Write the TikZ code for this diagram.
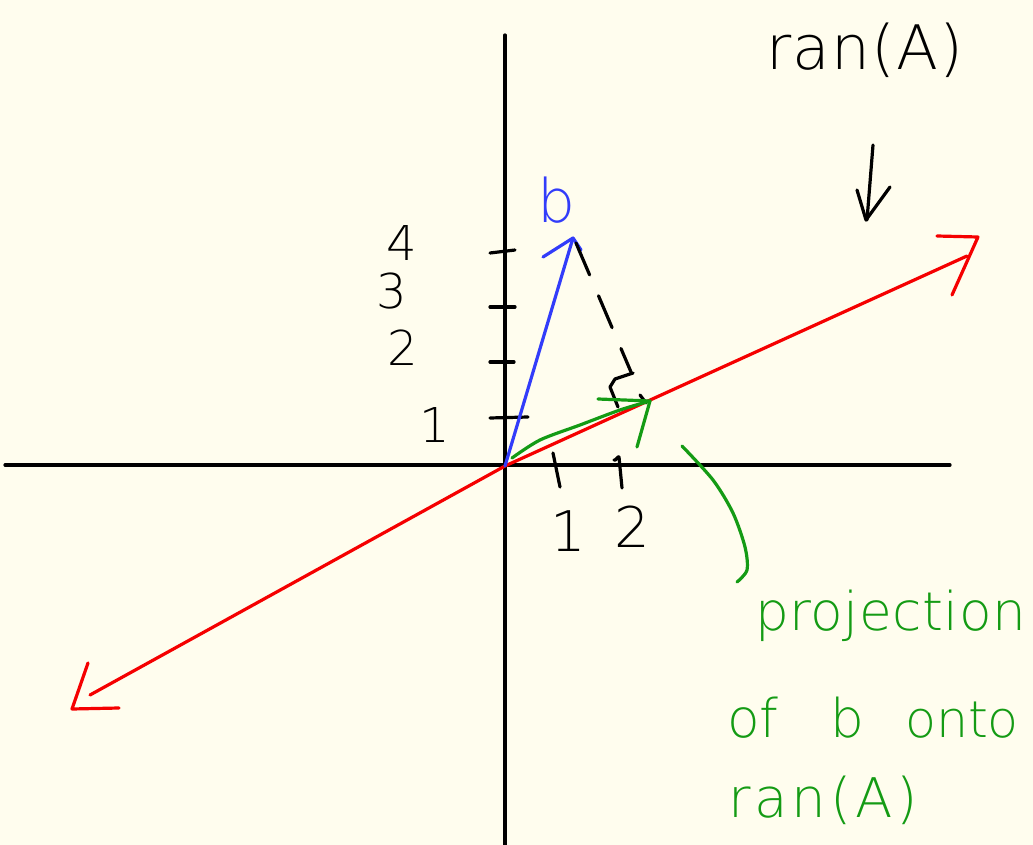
\documentclass[tikz,border=0pt]{standalone}
\usepackage{fontspec}
\setmainfont{DejaVu Sans ExtraLight}
\definecolor{bgc}{RGB}{255,253,238}
\definecolor{pred}{RGB}{245,0,0}
\definecolor{pblue}{RGB}{50,60,250}
\definecolor{pgreen}{RGB}{20,155,20}
\tikzset{
  pen/.style={line width=2.4pt,line cap=round,line join=round},
  lbl/.style={inner sep=0pt,outer sep=0pt},
  digit/.style={lbl,font={\fontsize{36}{42}\selectfont}},
  xdigit/.style={lbl,font={\fontsize{42}{48}\selectfont}},
  gtext/.style={lbl,text=pgreen,anchor=base west,font={\fontsize{40}{46}\selectfont}},
}
\begin{document}
\begin{tikzpicture}[x=0.75pt,y=-0.75pt]
\fill[bgc] (0,0) rectangle (1033,845);
\useasboundingbox (0,0) rectangle (1033,845);

% key points
\coordinate (O) at (505,466);
\coordinate (XL) at (5,465);
\coordinate (XR) at (950,465);
\coordinate (YT) at (505,35);
\coordinate (YB) at (505,845);
\coordinate (B) at (573,238);
\coordinate (P) at (650,401);
\coordinate (RL) at (90,695);
\coordinate (RR) at (967,256);
\coordinate (RLtip) at (72,709);
\coordinate (RRtip) at (978,237);

% axes
\draw[pen] (XL) -- (XR);
\draw[pen] (YT) -- (YB);

% y ticks
\draw[pen] (490,253) -- (515,250);
\draw[pen] (490,307) -- (515,307);
\draw[pen] (490,362) -- (514,362);
\draw[pen] (490,418) -- (528,417);
% x ticks
\draw[pen] (553,453) -- (560,487);
\draw[pen] (614,460) to[out=-60,in=100] (619,457) -- (622,488);

% y labels
\node[digit] (l4) at (402,243) {4};
\node[digit] (l3) at (392,291) {3};
\node[digit] (l2) at (403,348) {2};
\node[digit] (l1) at (435,425) {1};
% x labels
\node[xdigit] (m1) at (568,531) {1};
\node[xdigit] (m2) at (632,527) {2};

% range line (red)
\draw[pen,pred] (RL) -- (O) -- (RR);
\draw[pen,pred] (88,663) -- (RLtip) -- (119,708);
\draw[pen,pred] (937,236) -- (RRtip) -- (952,295);

% vector b (blue)
\draw[pen,pblue] (O) -- (B);
\draw[pen,pblue] (543,257) -- (B) -- (581,250);
\node[lbl,text=pblue,font={\fontsize{45}{52}\selectfont}] (bl) at (557,200) {b};

% dashed perpendicular
\draw[pen,dash pattern=on 26pt off 17pt] (576,243) -- (631,372);
\draw[pen] (633,373) -- (615,379) -- (610,387) -- (618,407);
\draw[pen] (640,395) -- (646,403);

% projection (green)
\draw[pen,pgreen] plot[smooth] coordinates {(512,458) (540,440) (580,425) (620,410) (P)};
\draw[pen,pgreen] (598,399) -- (P) -- (637,447);

% leader (green)
\draw[pen,pgreen] plot[smooth] coordinates {(682,446) (713,480) (733,513) (745,547) (747,570) (737,582)};

% ran(A) label and arrow (black)
\node[lbl,anchor=base west,font={\fontsize{46}{52}\selectfont\addfontfeatures{LetterSpace=2}}] (ranA) at (766,70) {ran(A)};
\draw[pen] (873,145) -- (867,220);
\draw[pen] (857,190) -- (866,220) -- (890,187);

% projection text (green)
\node[gtext,font={\fontsize{40}{46}\selectfont\addfontfeatures{LetterSpace=1}}] (t1) at (755,630) {projection};
\node[gtext] (t2a) at (727,737) {of};
\node[gtext] (t2b) at (830,737) {b};
\node[gtext,font={\fontsize{38}{44}\selectfont}] (t2c) at (905,737) {onto};
\node[gtext,font={\fontsize{41}{47}\selectfont\addfontfeatures{LetterSpace=7}}] (t3) at (728,817) {ran(A)};
\end{tikzpicture}
\end{document}
